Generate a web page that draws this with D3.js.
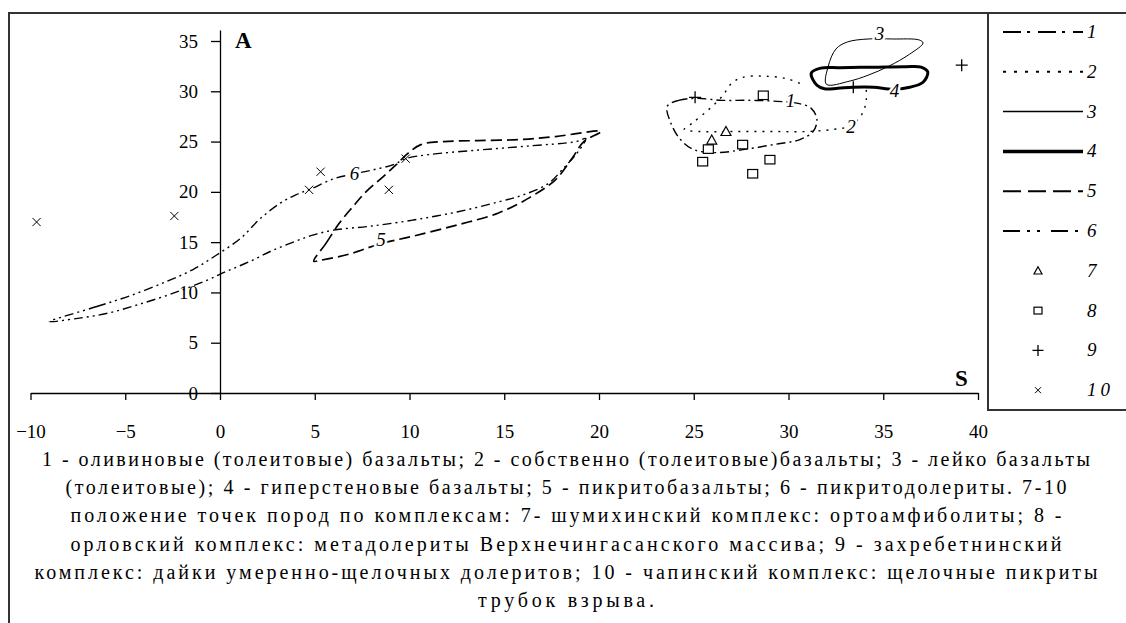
<!DOCTYPE html>
<html>
<head>
<meta charset="utf-8">
<script src="https://cdn.jsdelivr.net/npm/d3@7"></script>
<style>
  body { margin: 0; background: #fff; }
  svg { display: block; }
  text { font-family: "Liberation Serif", "Times New Roman", "DejaVu Serif", serif; }
</style>
</head>
<body>
<div id="chart"></div>
<script>
// contours (S, A)
var loop1 = [[23.6,28.5],[24.2,29.1],[25.1,29.3],[26.5,29.1],[28.0,29.1],[29.4,29.0],[30.5,28.8],[31.2,28.3],
  [31.5,27.2],[31.3,26.0],[30.6,25.2],[29.2,24.7],[27.6,24.2],[26.2,23.9],[25.0,24.2],[24.3,25.2],[23.8,26.8]];
var loop2 = [[30.6,30.8],[29.8,31.3],[28.7,31.5],[27.6,31.4],[27.0,30.8],[26.5,29.5],[25.8,28.2],[24.9,26.8],
  [24.5,26.2],[25.3,26.0],[27.0,26.0],[29.0,26.0],[31.0,26.0],[32.3,26.2],[33.3,26.6],[33.9,27.8],[34.1,29.1],[34.1,30.3]];
var loop3 = [[32.0,30.7],[32.1,32.5],[32.5,34.2],[33.1,34.9],[34.2,35.2],[35.5,35.2],[36.9,35.1],[37.1,34.8],
  [36.4,33.7],[35.3,32.5],[34.2,31.6],[33.2,31.0]];
var loop4 = [[31.2,31.8],[31.7,32.3],[32.7,32.35],[34.5,32.4],[36.2,32.45],[37.0,32.4],[37.35,31.9],[37.1,30.9],
  [36.4,30.4],[35.5,30.2],[34.5,30.4],[33.4,30.4],[32.6,30.3],[31.9,30.25],[31.5,30.6]];
var loop5 = [[4.95,13.1],[5.6,14.9],[6.3,16.9],[7.0,18.5],[7.7,20.0],[8.6,21.5],[9.3,22.7],[9.9,23.8],[10.6,24.7],
  [11.8,25.0],[13.6,25.1],[15.8,25.2],[17.7,25.5],[20.1,26.0],[19.2,25.0],[18.6,23.4],[17.7,21.2],[16.4,19.5],
  [14.7,17.9],[12.5,16.7],[10.2,15.6],[8.4,14.8],[6.8,13.8],[5.3,13.2]];
var loop6 = [[-9.0,7.1],[-6.5,8.6],[-4.7,9.7],[-2.8,11.1],[-1.4,12.3],[-0.2,13.7],[1.1,15.4],[2.1,17.3],[3.2,18.9],
  [4.0,19.7],[4.8,20.3],[6.0,21.3],[7.1,21.8],[8.1,22.2],[9.15,22.7],[9.8,23.3],[11.0,23.7],[13.6,24.15],
  [16.2,24.55],[18.8,25.0],[19.3,25.3],[18.9,24.0],[18.2,22.5],[17.3,20.8],[16.0,19.7],[14.7,19.0],[12.5,18.0],
  [10.2,17.2],[8.0,16.6],[6.0,16.2],[4.9,15.7],[4.0,15.1],[2.8,14.2],[1.6,13.1],[0.35,12.1],[-0.7,11.2],
  [-2.5,9.9],[-4.3,8.8],[-6.0,7.9],[-7.6,7.4]];

// points
var pts7 = [[26.7,26.0],[25.95,25.15]];
var pts8 = [[28.67,29.6],[25.77,24.25],[27.58,24.7],[25.47,23.0],[29.02,23.2],[28.11,21.8]];
var pts9 = [[39.14,32.6],[25.07,29.4],[33.42,30.4]];
var pts10 = [[-9.68,17.0],[-2.41,17.6],[4.7,20.2],[5.31,22.0],[8.91,20.2],[9.8,23.3]];

// labels on the contours
var loopLabels = ["1", "2", "3", "4", "5", "6"];
var loopLabelPos = [[30.1,29.0],[33.3,26.4],[34.8,35.7],[35.6,30.0],[8.5,15.2],[7.1,21.8]];

var xTicks = [-10, -5, 0, 5, 10, 15, 20, 25, 30, 35, 40];
var yTicks = [0, 5, 10, 15, 20, 25, 30, 35];
var legendLabels = ["1", "2", "3", "4", "5", "6", "7", "8", "9", "10"];

var caption = [
  "1 - оливиновые (толеитовые) базальты; 2 - собственно (толеитовые)базальты; 3 - лейко базальты",
  "(толеитовые); 4 - гиперстеновые базальты; 5 - пикритобазальты; 6 - пикритодолериты. 7-10",
  "положение точек пород по комплексам: 7- шумихинский комплекс: ортоамфиболиты; 8 -",
  "орловский комплекс: метадолериты Верхнечингасанского массива;  9 - захребетнинский",
  "комплекс: дайки умеренно-щелочных долеритов; 10 - чапинский комплекс: щелочные пикриты",
  "трубок взрыва."
];
var captionWidths = [1048, 1001, 991, 991, 1063, 176];

var width = 1126, height = 623;

var svg = d3.select("#chart").append("svg")
  .attr("width", width)
  .attr("height", height);

// frame
svg.append("rect")
  .attr("x", 9).attr("y", 13)
  .attr("width", 1140).attr("height", 700)
  .attr("fill", "none").attr("stroke", "#333").attr("stroke-width", 2);

var x = d3.scaleLinear().domain([-10, 40]).range([30.5, 978]);
var y = d3.scaleLinear().domain([0, 35]).range([393, 41]);

// axes
svg.append("g")
  .attr("transform", "translate(0," + y(0) + ")")
  .call(d3.axisBottom(x).tickValues(xTicks).tickSize(7).tickSizeOuter(0).tickPadding(25));

var yScaleAxis = y.copy().domain([0, 36.1]).range([y(0), y(36.1)]);
svg.append("g")
  .attr("transform", "translate(" + x(0) + ",0)")
  .call(d3.axisLeft(yScaleAxis).tickValues(yTicks).tickSize(9).tickSizeOuter(0).tickPadding(13));

svg.selectAll(".domain, .tick line").attr("stroke", "#000").attr("stroke-width", 1.3);
svg.selectAll(".tick text")
  .attr("font-family", "Liberation Serif")
  .attr("font-size", 19)
  .attr("fill", "#000");

svg.append("text").attr("x", 235).attr("y", 48)
  .attr("font-size", 23).attr("font-weight", "bold").text("A");
svg.append("text").attr("x", 955).attr("y", 386)
  .attr("font-size", 23).attr("font-weight", "bold").text("S");

var line = d3.line()
  .x(function(d) { return x(d[0]); })
  .y(function(d) { return y(d[1]); });

var styles = [
  { data: loop1, dash: "9,4,2,4", w: 1.4, closed: true },
  { data: loop2, dash: "2,6", w: 1.4, closed: false },
  { data: loop3, dash: null, w: 1, closed: true },
  { data: loop4, dash: null, w: 3, closed: true },
  { data: loop5, dash: "11,5", w: 1.7, closed: true },
  { data: loop6, dash: "9,4,2,4,2,4", w: 1.4, closed: true }
];

styles.forEach(function(s) {
  line.curve(s.closed ? d3.curveCatmullRomClosed.alpha(0.5) : d3.curveCatmullRom.alpha(0.5));
  svg.append("path")
    .attr("d", line(s.data))
    .attr("fill", "none")
    .attr("stroke", "#000")
    .attr("stroke-width", s.w)
    .attr("stroke-dasharray", s.dash);
});

// markers
function drawMarker(g, kind, size) {
  var h = size / 2;
  if (kind === 7) {
    g.append("path").attr("d", "M0," + (-h) + "L" + h + "," + (h * 0.8) + "H" + (-h) + "Z")
      .attr("fill", "#fff").attr("stroke", "#000").attr("stroke-width", 1.2);
  } else if (kind === 8) {
    g.append("rect").attr("x", -h).attr("y", -h * 0.85).attr("width", size).attr("height", size * 0.85)
      .attr("fill", "#fff").attr("stroke", "#000").attr("stroke-width", 1.2);
  } else if (kind === 9) {
    g.append("path").attr("d", "M" + (-h) + ",0H" + h + "M0," + (-h) + "V" + h)
      .attr("stroke", "#000").attr("stroke-width", 1.3);
  } else {
    var k = h * 0.75;
    g.append("path").attr("d", "M" + (-k) + "," + (-k) + "L" + k + "," + k + "M" + (-k) + "," + k + "L" + k + "," + (-k))
      .attr("stroke", "#000").attr("stroke-width", 1);
  }
}

[[pts7, 7], [pts8, 8], [pts9, 9], [pts10, 10]].forEach(function(p) {
  p[0].forEach(function(d) {
    var g = svg.append("g").attr("transform", "translate(" + x(d[0]) + "," + y(d[1]) + ")");
    drawMarker(g, p[1], p[1] === 9 ? 12 : (p[1] === 10 ? 11 : 10));
  });
});

// contour labels
svg.selectAll(".loopLabel")
  .data(loopLabels)
  .enter().append("text")
  .attr("class", "loopLabel")
  .attr("x", function(d, i) { return x(loopLabelPos[i][0]); })
  .attr("y", function(d, i) { return y(loopLabelPos[i][1]) + 6; })
  .attr("text-anchor", "middle")
  .attr("font-size", 19)
  .attr("font-style", "italic")
  .attr("stroke", "#fff").attr("stroke-width", 5).attr("paint-order", "stroke")
  .attr("fill", "#000")
  .text(function(d) { return d; });

// legend
var legend = svg.append("g");
legend.append("rect")
  .attr("x", 988).attr("y", 13).attr("width", 160).attr("height", 397)
  .attr("fill", "#fff").attr("stroke", "#333").attr("stroke-width", 2);

var legendDash = ["18,6,3,8", "3,8", null, null, "18,7", "17,7,3,7,3,11"];
var legendW = [2, 2, 1.5, 3.5, 2, 2];

legendLabels.forEach(function(lbl, i) {
  var ly = 32 + i * 39.8;
  if (i < 6) {
    legend.append("line")
      .attr("x1", 1003).attr("x2", 1083).attr("y1", ly).attr("y2", ly)
      .attr("stroke", "#000").attr("stroke-width", legendW[i])
      .attr("stroke-dasharray", legendDash[i]);
  } else {
    var g = legend.append("g").attr("transform", "translate(1038," + ly + ")");
    drawMarker(g, i + 1, i === 8 ? 11 : 8);
  }
  legend.append("text")
    .attr("x", 1087).attr("y", ly + 6)
    .attr("font-size", 19).attr("font-style", "italic")
    .attr("letter-spacing", i === 9 ? 4 : 0)
    .text(lbl);
});

// caption
svg.selectAll(".caption")
  .data(caption)
  .enter().append("text")
  .attr("class", "caption")
  .attr("x", 566)
  .attr("y", function(d, i) { return 466 + i * 28.2; })
  .attr("text-anchor", "middle")
  .attr("font-size", 20)
  .attr("textLength", function(d, i) { return captionWidths[i]; })
  .attr("lengthAdjust", "spacing")
  .text(function(d) { return d; });
</script>
</body>
</html>
